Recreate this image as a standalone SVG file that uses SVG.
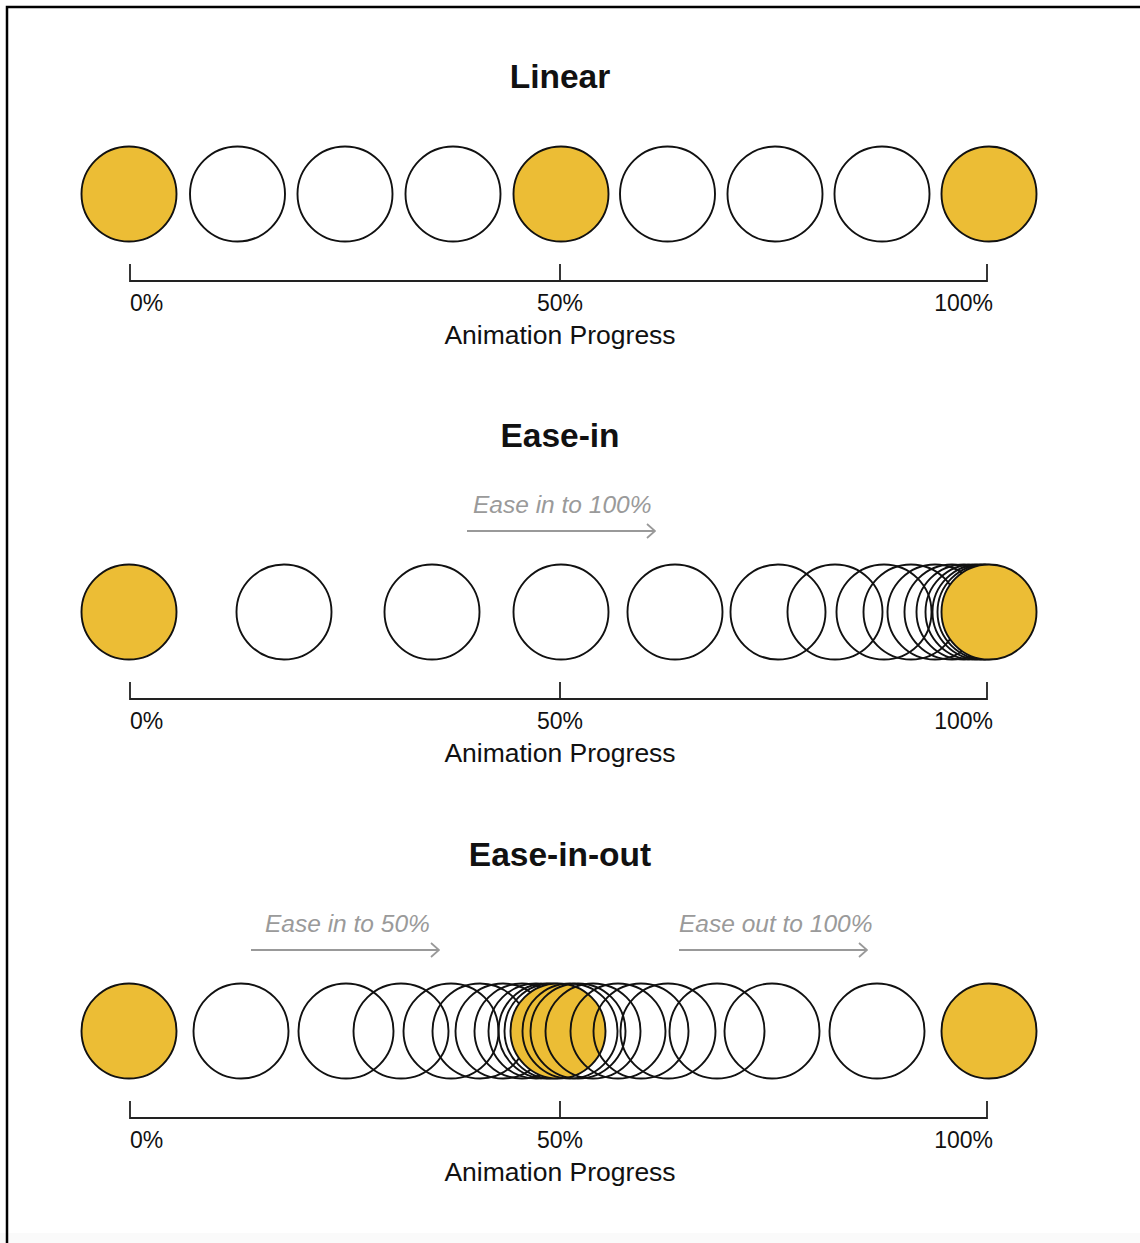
<svg xmlns="http://www.w3.org/2000/svg" width="1140" height="1243" viewBox="0 0 1140 1243">
  <style>
    .ring { fill: none; stroke: #111; stroke-width: 1.9; }
    .dot { fill: #ECBD35; stroke: #111; stroke-width: 1.9; }
    .axis { fill: none; stroke: #222; stroke-width: 1.8; }
    .title { font-family: "Liberation Sans", Arial, sans-serif; font-weight: bold; font-size: 33.5px; fill: #111; text-anchor: middle; }
    .pct { font-family: "Liberation Sans", Arial, sans-serif; font-size: 23px; fill: #111; }
    .cap { font-family: "Liberation Sans", Arial, sans-serif; font-size: 26.5px; fill: #111; text-anchor: middle; }
    .note { font-family: "Liberation Sans", Arial, sans-serif; font-style: italic; font-size: 24.5px; fill: #9a9a9a; }
    .hint { stroke: #999; stroke-width: 1.8; fill: none; }
  </style>
  <defs>
    <marker id="chev" viewBox="0 0 10 16" refX="9" refY="8" markerWidth="10" markerHeight="16" markerUnits="userSpaceOnUse" orient="auto">
      <path d="M1 1 L9 8 L1 15" fill="none" stroke="#999" stroke-width="1.8"/>
    </marker>
    <!-- scale under each row: end ticks, midpoint tick, labels -->
    <g id="scale">
      <path class="axis" d="M130 -17 V0 H987 V-17 M560 -17 V0"/>
      <text class="pct" x="130" y="30">0%</text>
      <text class="pct" x="560" y="30" text-anchor="middle">50%</text>
      <text class="pct" x="993" y="30" text-anchor="end">100%</text>
      <text class="cap" x="560" y="63">Animation Progress</text>
    </g>
  </defs>

  <rect width="1140" height="1243" fill="#fff"/>
  <rect x="0" y="1233" width="1140" height="10" fill="#fafafa"/>
  <!-- frame (top and left edges) -->
  <path d="M7 1243 V7 H1140" fill="none" stroke="#000" stroke-width="2.5"/>

  <!-- Linear -->
  <g id="linear">
    <text class="title" x="560" y="88">Linear</text>
    <g id="linear-frames">
      <circle class="dot" cx="129" cy="194" r="47.5"/>
      <circle class="ring" cx="237.5" cy="194" r="47.5"/>
      <circle class="ring" cx="345" cy="194" r="47.5"/>
      <circle class="ring" cx="453" cy="194" r="47.5"/>
      <circle class="dot" cx="561" cy="194" r="47.5"/>
      <circle class="ring" cx="667.5" cy="194" r="47.5"/>
      <circle class="ring" cx="775" cy="194" r="47.5"/>
      <circle class="ring" cx="882" cy="194" r="47.5"/>
      <circle class="dot" cx="989" cy="194" r="47.5"/>
    </g>
    <use href="#scale" x="0" y="281"/>
  </g>

  <!-- Ease-in -->
  <g id="ease-in">
    <text class="title" x="560" y="447">Ease-in</text>
    <text class="note" x="473" y="513">Ease in to 100%</text>
    <g id="ease-in-frames">
      <circle class="dot" cx="129" cy="612" r="47.5"/>
      <circle class="ring" cx="284" cy="612" r="47.5"/>
      <circle class="ring" cx="432" cy="612" r="47.5"/>
      <circle class="ring" cx="561" cy="612" r="47.5"/>
      <circle class="ring" cx="675" cy="612" r="47.5"/>
      <circle class="ring" cx="778" cy="612" r="47.5"/>
      <circle class="ring" cx="835" cy="612" r="47.5"/>
      <circle class="ring" cx="884" cy="612" r="47.5"/>
      <circle class="ring" cx="911" cy="612" r="47.5"/>
      <circle class="ring" cx="935" cy="612" r="47.5"/>
      <circle class="ring" cx="952" cy="612" r="47.5"/>
      <circle class="ring" cx="964" cy="612" r="47.5"/>
      <circle class="ring" cx="973" cy="612" r="47.5"/>
      <circle class="ring" cx="980" cy="612" r="47.5"/>
      <circle class="ring" cx="985" cy="612" r="47.5"/>
      <circle class="dot" cx="989" cy="612" r="47.5"/>
    </g>
    <use href="#scale" x="0" y="699"/>
  </g>

  <!-- Ease-in-out -->
  <g id="ease-in-out">
    <text class="title" x="560" y="866">Ease-in-out</text>
    <text class="note" x="265" y="932">Ease in to 50%</text>
    <text class="note" x="679" y="932">Ease out to 100%</text>
    <g id="ease-in-out-frames">
      <circle class="dot" cx="129" cy="1031" r="47.5"/>
      <circle class="ring" cx="241" cy="1031" r="47.5"/>
      <circle class="ring" cx="346" cy="1031" r="47.5"/>
      <circle class="ring" cx="401" cy="1031" r="47.5"/>
      <circle class="ring" cx="451" cy="1031" r="47.5"/>
      <circle class="ring" cx="480" cy="1031" r="47.5"/>
      <circle class="ring" cx="503" cy="1031" r="47.5"/>
      <circle class="ring" cx="522" cy="1031" r="47.5"/>
      <circle class="ring" cx="536" cy="1031" r="47.5"/>
      <circle class="ring" cx="546" cy="1031" r="47.5"/>
      <circle class="ring" cx="552" cy="1031" r="47.5"/>
      <circle class="dot" cx="558" cy="1031" r="47.5"/>
      <circle class="ring" cx="570" cy="1031" r="47.5"/>
      <circle class="ring" cx="578" cy="1031" r="47.5"/>
      <circle class="ring" cx="593" cy="1031" r="47.5"/>
      <circle class="ring" cx="618" cy="1031" r="47.5"/>
      <circle class="ring" cx="641" cy="1031" r="47.5"/>
      <circle class="ring" cx="668" cy="1031" r="47.5"/>
      <circle class="ring" cx="717" cy="1031" r="47.5"/>
      <circle class="ring" cx="772" cy="1031" r="47.5"/>
      <circle class="ring" cx="877" cy="1031" r="47.5"/>
      <circle class="dot" cx="989" cy="1031" r="47.5"/>
    </g>
    <use href="#scale" x="0" y="1118"/>
  </g>

  <!-- direction hints -->
  <g id="connectors">
    <line class="hint" x1="467" y1="531" x2="655" y2="531" marker-end="url(#chev)"/>
    <line class="hint" x1="251" y1="950" x2="439" y2="950" marker-end="url(#chev)"/>
    <line class="hint" x1="679" y1="950" x2="867" y2="950" marker-end="url(#chev)"/>
  </g>
</svg>
